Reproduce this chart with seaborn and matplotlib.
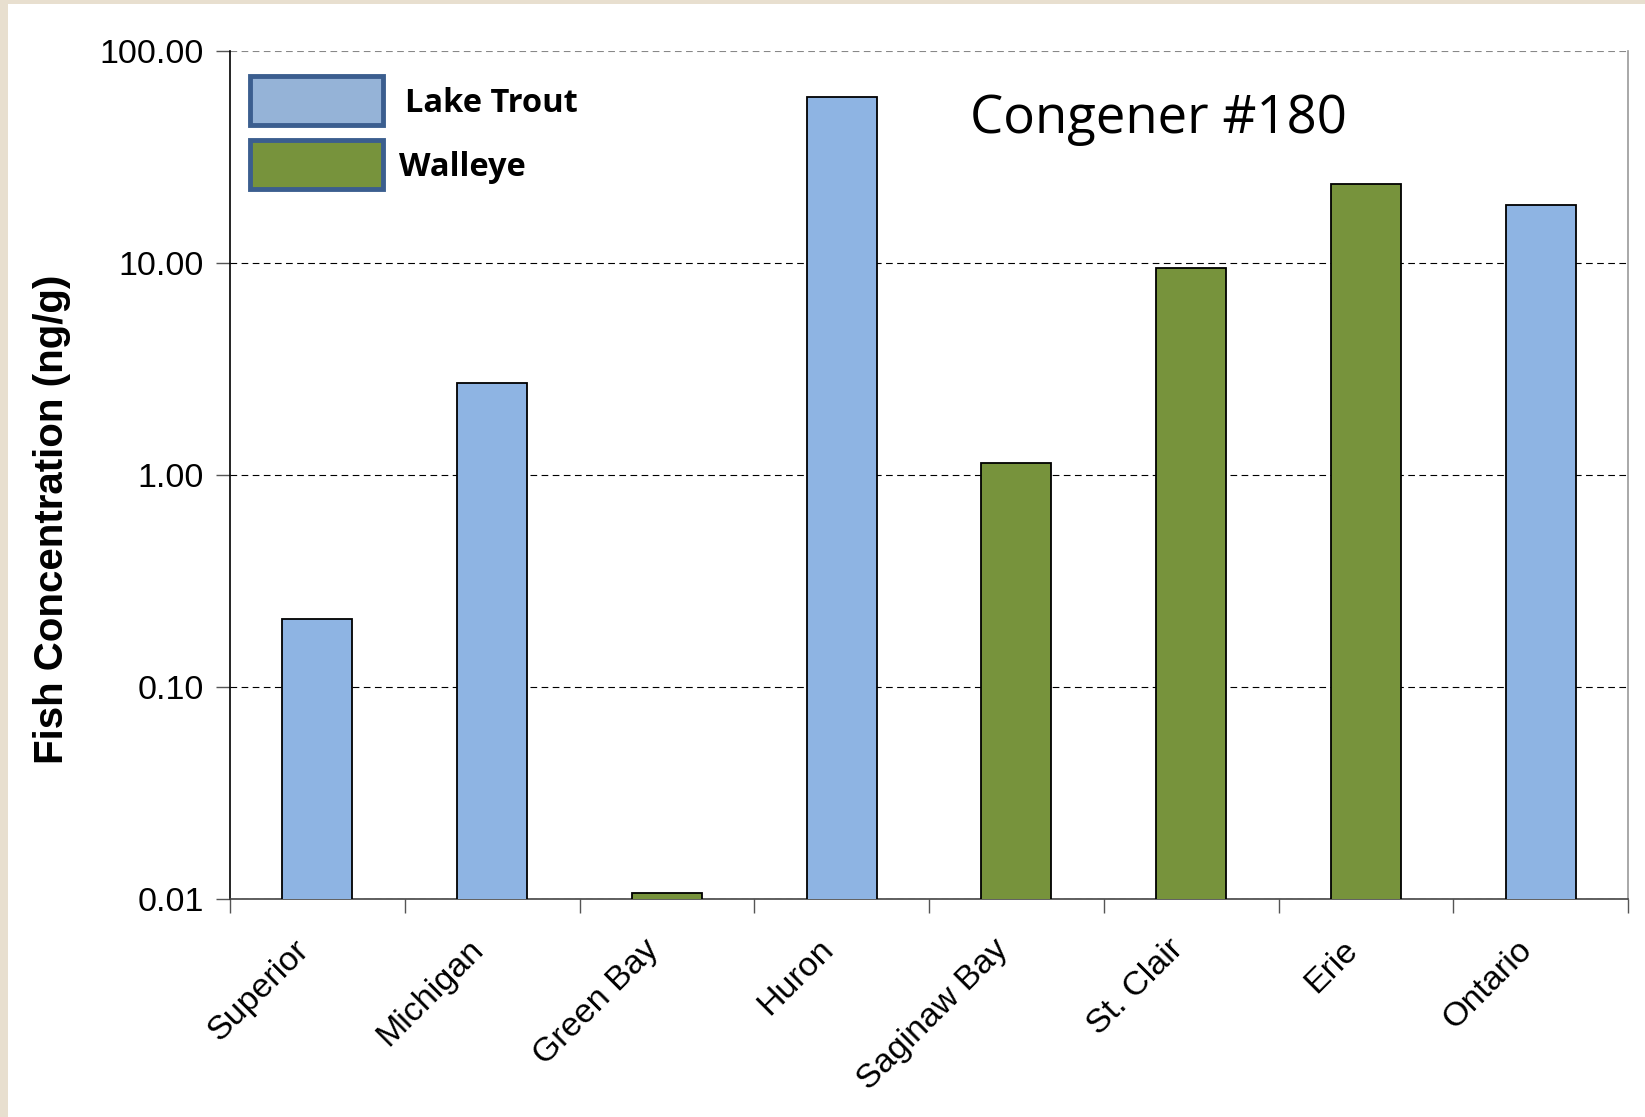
import seaborn as sns
import pandas as pd
import matplotlib.pyplot as plt
from matplotlib.patches import Rectangle
from matplotlib.transforms import ScaledTranslation

# 数据
lakes = ["Superior", "Michigan", "Green Bay", "Huron", "Saginaw Bay", "St. Clair", "Erie", "Ontario"]
species = ["Lake Trout", "Lake Trout", "Walleye", "Lake Trout", "Walleye", "Walleye", "Walleye", "Lake Trout"]
conc = [0.21, 2.72, 0.0107, 61.0, 1.14, 9.5, 23.5, 18.8]

bar_colors = {"Lake Trout": "#8EB4E3", "Walleye": "#77933C"}
legend_colors = {"Lake Trout": "#95B3D7", "Walleye": "#77933C"}

df = pd.DataFrame({"lake": lakes, "species": species, "conc": conc})

sns.set_style("white")
plt.rcParams['font.family'] = ['Liberation Sans', 'DejaVu Sans']
plt.rcParams['text.color'] = 'black'
plt.rcParams['axes.labelcolor'] = 'black'

fig = plt.figure(figsize=(16.45, 11.17), dpi=100, facecolor="#e8dfcf")
# 白色底板
fig.patches.append(Rectangle((8 / 1645, 0), 1, 1 - 4 / 1117, transform=fig.transFigure,
                             facecolor="white", edgecolor="none", zorder=-5))
ax = fig.add_axes([230 / 1645, 1 - 899 / 1117, 1398 / 1645, 848 / 1117])
ax.set_yscale("log")

sns.barplot(data=df, x="lake", y="conc", hue="species", palette=bar_colors,
            dodge=False, width=0.4, edgecolor="black", linewidth=1.3, saturation=1,
            legend=False, ax=ax, zorder=3)

ax.set_ylim(0.01, 100)
ax.set_xlim(-0.5, len(lakes) - 0.5)
ax.set_yticks([0.01, 0.1, 1, 10, 100])
ax.set_yticklabels(["0.01", "0.10", "1.00", "10.00", "100.00"])
ax.yaxis.set_minor_locator(plt.NullLocator())
ax.tick_params(axis="y", which="major", length=10, width=1, color="#555555", labelcolor="black",
               direction="out", left=True, labelsize=24.5, pad=9)

# x轴刻度在类别边界
ax.set_xticks([i - 0.5 for i in range(len(lakes) + 1)], minor=True)
ax.tick_params(axis="x", which="minor", length=10, width=1, color="#555555", bottom=True)
ax.tick_params(axis="x", which="major", length=0, labelsize=24.5, labelcolor="black", pad=33)
shift = ScaledTranslation(-0.13, 0, fig.dpi_scale_trans)
for lbl in ax.get_xticklabels():
    lbl.set_rotation(45)
    lbl.set_ha("right")
    lbl.set_va("center")
    lbl.set_rotation_mode("anchor")
    lbl.set_transform(lbl.get_transform() + shift)

ax.yaxis.grid(True, which="major", linestyle=(0, (6, 4)), color="black", linewidth=0.8, zorder=1)
ax.set_axisbelow(True)
ax.get_ygridlines()[-1].set_color("#888888")

ax.spines["top"].set_visible(False)
ax.spines["left"].set_color("black")
ax.spines["bottom"].set_color("#444444")
ax.spines["right"].set_color("#999999")
for s in ["left", "bottom", "right"]:
    ax.spines[s].set_linewidth(1.2)

ax.set_xlabel("")
ax.set_ylabel("Fish Concentration (ng/g)", fontsize=29, fontweight="bold")
ax.yaxis.set_label_coords(-0.114, 0.448)

ax.text(0.664, 0.919, "Congener #180", transform=ax.transAxes, ha="center", va="center",
        fontsize=38, family=["Open Sans", "DejaVu Sans"])

# 图例: 手工绘制色块
leg_names = ["Lake Trout", "Walleye"]
leg_top = [75.5, 139.5]
for name, top in zip(leg_names, leg_top):
    ax.add_patch(Rectangle(((250 - 230) / 1398, (899 - top - 49) / 848), 133 / 1398, 49 / 848,
                           transform=ax.transAxes, facecolor=legend_colors[name],
                           edgecolor="#3B5E8F", linewidth=3.5, zorder=5, clip_on=False))
ax.text((405 - 230) / 1398, (899 - 103) / 848, "Lake Trout", transform=ax.transAxes,
        ha="left", va="center", fontsize=23.5, fontweight="bold", family=["Open Sans", "DejaVu Sans"])
ax.text((399 - 230) / 1398, (899 - 168) / 848, "Walleye", transform=ax.transAxes,
        ha="left", va="center", fontsize=23.5, fontweight="bold", family=["Open Sans", "DejaVu Sans"])

fig.savefig("out.png", dpi=100, facecolor=fig.get_facecolor())
